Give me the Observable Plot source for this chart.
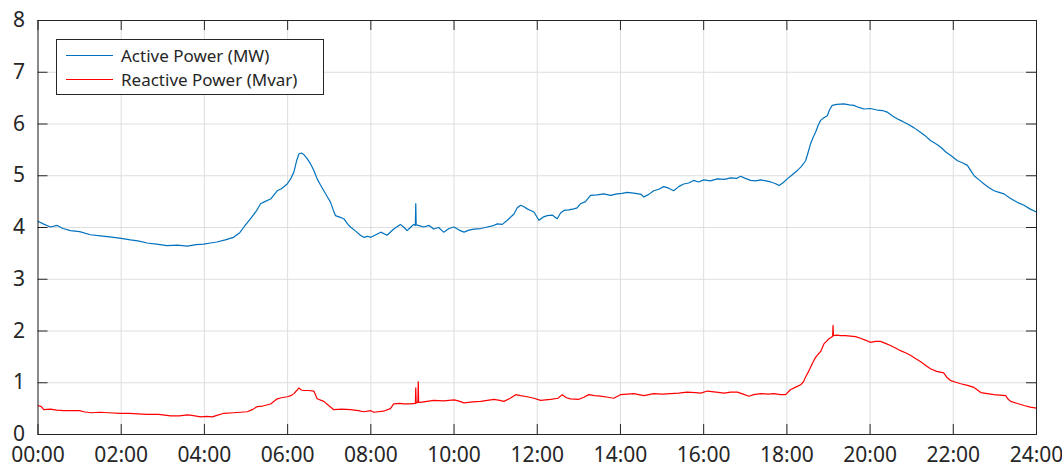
<!DOCTYPE html>
<html><head><meta charset="utf-8">
<script src="https://cdn.jsdelivr.net/npm/d3@7"></script>
<script src="https://cdn.jsdelivr.net/npm/@observablehq/plot@0.6"></script>
<style>
body{margin:0;background:#fff;}
#wrap{position:relative;width:1062px;height:468px;overflow:hidden;}
.legend{position:absolute;left:56px;top:39px;width:268px;height:56px;border:1px solid #262626;background:#fff;box-sizing:border-box;font-family:"Noto Sans";font-size:17px;color:#262626;}
.legend .row{position:absolute;left:0;height:22px;line-height:22px;white-space:nowrap;}
.legend .sw{position:absolute;left:9px;top:10px;width:47px;height:0;border-top:1.5px solid;}
.legend .lb{position:absolute;left:64px;top:0;}
</style></head>
<body>
<div id="wrap"></div>
<script>
const seriesNames = ["Active Power (MW)", "Reactive Power (Mvar)"];
const seriesColors = ["#0072BD", "#FF0000"];
const xTicks = [0,2,4,6,8,10,12,14,16,18,20,22,24];
const yTicks = [0,1,2,3,4,5,6,7,8];

const activeHours = [0,0.15,0.3,0.46,0.6,0.78,1.0,1.26,1.5,1.82,2.0,2.22,2.4,2.62,2.85,3.1,3.35,3.59,3.8,3.98,4.15,4.3,4.5,4.7,4.85,4.95,5.11,5.25,5.35,5.45,5.59,5.75,5.85,5.99,6.08,6.15,6.22,6.27,6.33,6.39,6.47,6.55,6.63,6.71,6.79,6.87,6.95,7.03,7.1,7.15,7.25,7.35,7.45,7.51,7.65,7.75,7.83,7.92,8.0,8.12,8.24,8.39,8.55,8.71,8.8,8.87,8.95,9.03,9.07,9.08,9.09,9.18,9.27,9.4,9.51,9.63,9.75,9.88,10.0,10.12,10.24,10.36,10.48,10.64,10.8,10.92,11.04,11.16,11.28,11.44,11.52,11.6,11.68,11.76,11.84,11.92,12.04,12.14,12.24,12.36,12.48,12.56,12.64,12.76,12.88,12.96,13.04,13.16,13.28,13.44,13.6,13.76,13.92,14.04,14.16,14.36,14.5,14.56,14.68,14.8,14.92,15.04,15.16,15.28,15.4,15.52,15.64,15.76,15.88,16.0,16.16,16.33,16.5,16.65,16.8,16.89,17.0,17.13,17.25,17.37,17.5,17.61,17.72,17.81,17.9,18.01,18.13,18.25,18.35,18.45,18.51,18.57,18.63,18.69,18.75,18.81,18.89,18.97,19.03,19.09,19.2,19.37,19.5,19.61,19.73,19.85,20.0,20.17,20.3,20.41,20.53,20.65,20.78,20.9,21.05,21.21,21.33,21.45,21.58,21.7,21.82,21.94,22.1,22.22,22.34,22.42,22.5,22.62,22.74,22.86,22.98,23.1,23.22,23.34,23.46,23.58,23.7,23.84,24.0];
const activeMW = [4.12,4.06,4.01,4.04,3.98,3.94,3.92,3.86,3.84,3.81,3.79,3.76,3.74,3.70,3.68,3.65,3.66,3.64,3.67,3.68,3.70,3.72,3.76,3.81,3.90,4.01,4.17,4.32,4.46,4.50,4.55,4.71,4.75,4.84,4.95,5.07,5.30,5.42,5.44,5.41,5.33,5.23,5.10,4.94,4.82,4.71,4.60,4.49,4.33,4.23,4.20,4.17,4.06,4.01,3.92,3.85,3.81,3.83,3.81,3.86,3.91,3.85,3.97,4.06,4.00,3.94,4.00,4.06,4.04,4.46,4.05,4.03,4.01,4.04,3.97,4.00,3.91,3.98,4.01,3.95,3.91,3.95,3.97,3.98,4.01,4.03,4.07,4.06,4.14,4.26,4.38,4.43,4.40,4.36,4.33,4.30,4.14,4.20,4.23,4.24,4.17,4.28,4.33,4.34,4.36,4.38,4.46,4.50,4.62,4.63,4.65,4.62,4.65,4.66,4.68,4.66,4.64,4.59,4.64,4.71,4.74,4.79,4.76,4.71,4.79,4.84,4.86,4.91,4.88,4.92,4.90,4.94,4.93,4.96,4.95,4.99,4.95,4.91,4.90,4.92,4.90,4.88,4.85,4.81,4.86,4.94,5.02,5.10,5.18,5.29,5.45,5.62,5.74,5.84,5.97,6.07,6.12,6.16,6.28,6.36,6.38,6.39,6.37,6.36,6.32,6.29,6.30,6.27,6.26,6.23,6.16,6.10,6.05,6.00,5.93,5.84,5.77,5.68,5.62,5.55,5.46,5.39,5.29,5.25,5.20,5.10,5.00,4.92,4.84,4.77,4.71,4.68,4.65,4.58,4.52,4.47,4.43,4.36,4.30];

const reactiveHours = [0,0.08,0.14,0.3,0.45,0.62,0.8,1.0,1.1,1.26,1.5,1.7,1.98,2.2,2.4,2.62,2.9,3.19,3.4,3.59,3.7,3.91,4.05,4.19,4.3,4.47,4.7,5.03,5.15,5.27,5.4,5.59,5.75,5.85,5.99,6.08,6.15,6.22,6.27,6.33,6.39,6.5,6.63,6.71,6.87,7.0,7.11,7.3,7.51,7.7,7.83,8.0,8.07,8.3,8.47,8.55,8.7,8.79,8.95,9.07,9.08,9.09,9.13,9.14,9.15,9.19,9.35,9.51,9.75,10.0,10.1,10.24,10.45,10.64,10.8,10.96,11.1,11.2,11.35,11.48,11.6,11.76,11.92,12.08,12.32,12.5,12.6,12.7,12.8,13.0,13.12,13.24,13.38,13.52,13.7,13.84,14.0,14.16,14.32,14.56,14.8,15.0,15.2,15.4,15.6,15.8,15.93,16.09,16.3,16.49,16.65,16.81,16.95,17.09,17.2,17.37,17.55,17.69,17.85,17.97,18.09,18.2,18.33,18.4,18.45,18.51,18.57,18.63,18.69,18.75,18.81,18.89,18.95,19.01,19.07,19.1,19.11,19.12,19.2,19.29,19.4,19.53,19.65,19.77,19.9,20.01,20.13,20.25,20.37,20.49,20.61,20.73,20.85,20.97,21.09,21.21,21.33,21.45,21.6,21.77,21.85,21.94,22.06,22.18,22.34,22.5,22.58,22.66,22.82,22.98,23.12,23.26,23.32,23.38,23.54,23.7,23.85,24.0];
const reactiveMvar = [0.56,0.54,0.48,0.49,0.47,0.46,0.46,0.46,0.44,0.42,0.43,0.42,0.41,0.41,0.40,0.39,0.39,0.36,0.36,0.38,0.37,0.34,0.35,0.34,0.37,0.41,0.42,0.44,0.48,0.54,0.55,0.59,0.69,0.71,0.73,0.75,0.79,0.85,0.90,0.86,0.85,0.85,0.84,0.69,0.64,0.55,0.48,0.49,0.48,0.46,0.44,0.46,0.43,0.45,0.50,0.59,0.60,0.59,0.59,0.60,0.90,0.61,0.62,1.02,0.62,0.62,0.64,0.66,0.65,0.67,0.65,0.61,0.63,0.64,0.66,0.68,0.66,0.64,0.70,0.77,0.75,0.73,0.70,0.66,0.68,0.70,0.77,0.71,0.69,0.68,0.72,0.77,0.75,0.74,0.72,0.70,0.77,0.78,0.79,0.75,0.79,0.78,0.79,0.80,0.82,0.81,0.80,0.84,0.82,0.80,0.82,0.82,0.78,0.74,0.77,0.79,0.78,0.79,0.77,0.77,0.87,0.91,0.96,1.02,1.11,1.20,1.30,1.40,1.49,1.55,1.60,1.75,1.80,1.85,1.88,1.90,2.11,1.91,1.92,1.91,1.91,1.90,1.89,1.86,1.82,1.78,1.80,1.80,1.76,1.72,1.67,1.62,1.58,1.53,1.47,1.41,1.34,1.27,1.22,1.19,1.10,1.04,1.01,0.98,0.95,0.91,0.86,0.81,0.79,0.77,0.76,0.75,0.68,0.64,0.60,0.56,0.53,0.51];

const active = activeHours.map((t, i) => ({t, v: activeMW[i]}));
const reactive = reactiveHours.map((t, i) => ({t, v: reactiveMvar[i]}));
const fmtHour = d => String(d).padStart(2, "0") + ":00";

const W = 1062, H = 468, mL = 37.5, mR = 26, mT = 20, mB = 34, tick = 10;
const innerW = W - mL - mR, innerH = H - mT - mB;

const chart = Plot.plot({
  width: W, height: H,
  marginLeft: mL, marginRight: mR, marginTop: mT, marginBottom: mB,
  x: {domain: [0, 24], label: null},
  y: {domain: [0, 8], label: null},
  style: {fontFamily: "Noto Sans", fontSize: "21px", color: "#262626", background: "#fff", overflow: "visible"},
  marks: [
    Plot.gridX(xTicks, {stroke: "#dedede", strokeOpacity: 1}),
    Plot.gridY(yTicks, {stroke: "#dedede", strokeOpacity: 1}),
    Plot.line(active, {x: "t", y: "v", stroke: seriesColors[0], strokeWidth: 1.2}),
    Plot.line(reactive, {x: "t", y: "v", stroke: seriesColors[1], strokeWidth: 1.2}),
    Plot.ruleX(xTicks, {x: d => d, insetTop: innerH - tick, stroke: "#262626"}),
    Plot.ruleX(xTicks, {x: d => d, insetBottom: innerH - tick, stroke: "#262626"}),
    Plot.ruleY(yTicks, {y: d => d, insetRight: innerW - tick, stroke: "#262626"}),
    Plot.ruleY(yTicks, {y: d => d, insetLeft: innerW - tick, stroke: "#262626"}),
    Plot.axisX(xTicks, {tickSize: 0, tickPadding: 13, tickFormat: fmtHour, fill: "#262626", label: null}),
    Plot.axisY(yTicks, {tickSize: 0, tickPadding: 13, tickFormat: d => String(d), fill: "#262626", label: null}),
    Plot.frame({stroke: "#262626"})
  ]
});
const wrap = document.getElementById("wrap");
wrap.appendChild(chart);

const leg = document.createElement("div");
leg.className = "legend";
seriesNames.forEach((name, i) => {
  const row = document.createElement("div");
  row.className = "row";
  row.style.top = (5 + i * 24) + "px";
  const sw = document.createElement("span");
  sw.className = "sw";
  sw.style.borderColor = seriesColors[i];
  const lb = document.createElement("span");
  lb.className = "lb";
  lb.textContent = name;
  row.appendChild(sw); row.appendChild(lb);
  leg.appendChild(row);
});
wrap.appendChild(leg);
</script>
</body></html>
